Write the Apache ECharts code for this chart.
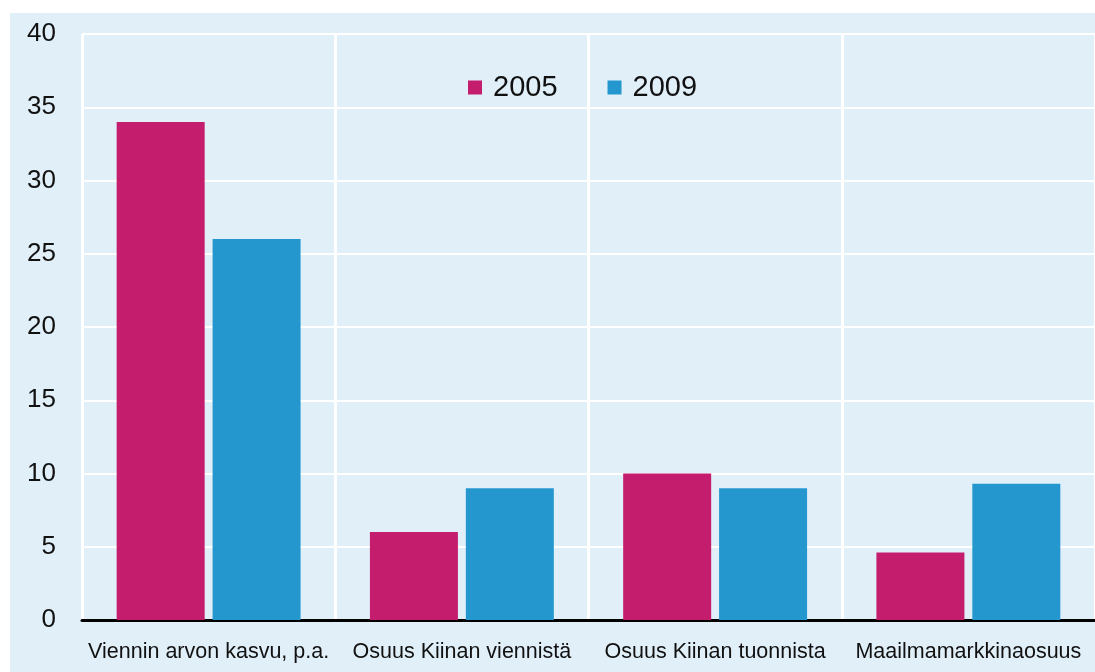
<!DOCTYPE html>
<html><head><meta charset="utf-8">
<script src="https://cdn.jsdelivr.net/npm/echarts@6/dist/echarts.min.js"></script>
<style>html,body{margin:0;padding:0;background:#fff;}#c{width:1095px;height:672px;}</style>
</head><body><div id="c"></div>
<script>
const categories = ["Viennin arvon kasvu, p.a.", "Osuus Kiinan viennistä", "Osuus Kiinan tuonnista", "Maailmamarkkinaosuus"];
const seriesNames = ["2005", "2009"];
const values2005 = [34, 6, 10, 4.6];
const values2009 = [26, 9, 9, 9.3];
const yTicks = {min: 0, max: 40, interval: 5};

const chart = echarts.init(document.getElementById('c'), null, {renderer: 'canvas'});
const font = '"Liberation Sans", Arial, sans-serif';
chart.setOption({
  animation: false,
  backgroundColor: '#ffffff',
  graphic: [{type: 'rect', z: -10, shape: {x: 10, y: 13, width: 1085, height: 659}, style: {fill: '#e1eff9'}}],
  grid: {left: 82, right: -1, top: 34, bottom: 52, containLabel: false},
  legend: {
    data: seriesNames, left: 463, top: 68, itemWidth: 14, itemHeight: 14, itemGap: 50,
    icon: 'rect',
    textStyle: {fontFamily: font, fontSize: 29, color: '#111', padding: [0, 0, 0, 6]}
  },
  xAxis: {
    type: 'category', data: categories, boundaryGap: true,
    axisLine: {lineStyle: {color: '#000', width: 3}},
    axisTick: {show: false},
    axisLabel: {fontFamily: font, fontSize: 21.5, color: '#111', margin: 21, interval: 0},
    splitLine: {show: true, interval: 0, lineStyle: {color: '#ffffff', width: 3}}
  },
  yAxis: {
    type: 'value', min: yTicks.min, max: yTicks.max, interval: yTicks.interval,
    axisLine: {show: false}, axisTick: {show: false},
    axisLabel: {fontFamily: font, fontSize: 26, color: '#111', margin: 26},
    splitLine: {lineStyle: {color: '#ffffff', width: 2}}
  },
  series: [
    {name: seriesNames[0], type: 'bar', data: values2005, barWidth: 88, barGap: '9%', itemStyle: {color: '#c51d6e'}},
    {name: seriesNames[1], type: 'bar', data: values2009, barWidth: 88, itemStyle: {color: '#2597cf'}}
  ]
});
</script></body></html>
